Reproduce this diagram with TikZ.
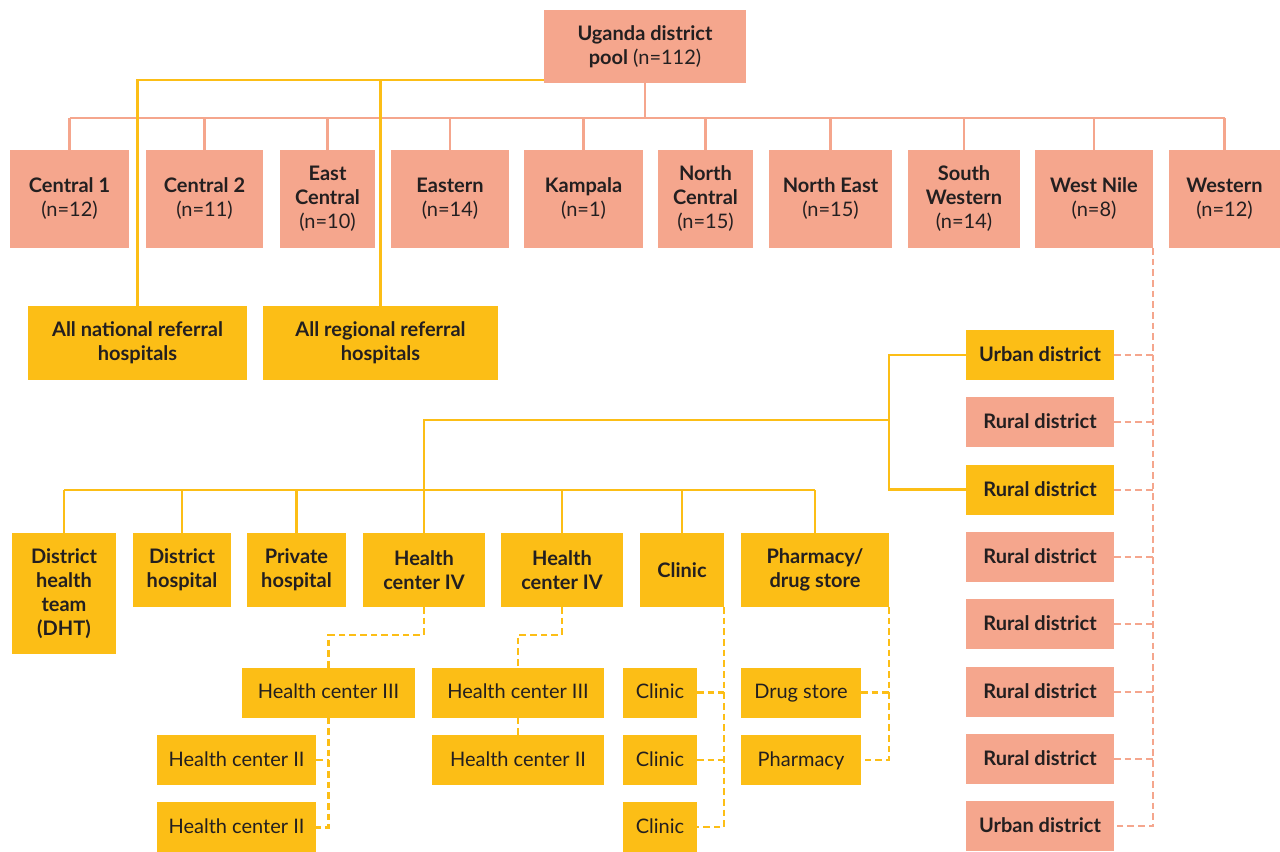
\documentclass[tikz,border=0pt]{standalone}
\usepackage{fontspec}
\setmainfont{Lato}
\usepackage{tikz}
\usetikzlibrary{positioning}
\definecolor{salmon}{RGB}{245,166,141}
\definecolor{gold}{RGB}{252,190,22}
\definecolor{ink}{RGB}{35,31,32}
\tikzset{%
salbox/.style={rectangle, fill=salmon, text=ink, align=center, inner sep=0pt, outer sep=0pt, font=\fontsize{15}{18}\selectfont},
goldbox/.style={rectangle, fill=gold, text=ink, align=center, inner sep=0pt, outer sep=0pt, font=\fontsize{15}{18}\selectfont},
region/.style={salbox, minimum height=73.5pt},
referral/.style={goldbox, font=\fontsize{15}{18}\selectfont\bfseries, minimum height=55.5pt},
distbox/.style={minimum width=111pt, minimum height=37.5pt, text height=12.5pt, text depth=3pt, font=\fontsize{15}{18}\selectfont\bfseries},
facility/.style={goldbox, font=\fontsize{15}{18}\selectfont\bfseries, minimum height=55.5pt},
outlet/.style={goldbox, minimum height=37.5pt, text height=12.5pt, text depth=3pt},
salline/.style={draw=salmon, line width=1.8pt},
goldline/.style={draw=gold, line width=2pt},
saldash/.style={draw=salmon, line width=1.6pt, dash pattern=on 5pt off 3pt},
golddash/.style={draw=gold, line width=1.8pt, dash pattern=on 5pt off 3pt}
}

\begin{document}
\begin{tikzpicture}[x=0.75pt, y=-0.75pt, node distance=13pt]
		\useasboundingbox (0,0) rectangle (1280,852);
		\node[salbox, minimum width=151.5pt, minimum height=55pt] (pool) at (645,46.5) {\textbf{Uganda district}\\\textbf{pool} (n=112)};
		
		\node[region, minimum width=89pt] (cen1) at (69.5,199) {\textbf{Central 1}\\(n=12)};
		\node[region, minimum width=88pt] (cen2) at (204.5,199) {\textbf{Central 2}\\(n=11)};
		\node[region, minimum width=71pt] (ecen) at (327.5,199) {\textbf{East}\\\textbf{Central}\\(n=10)};
		\node[region, minimum width=88.5pt] (east) at (450,199) {\textbf{Eastern}\\(n=14)};
		\node[region, minimum width=89pt] (kamp) at (583.5,199) {\textbf{Kampala}\\(n=1)};
		\node[region, minimum width=71pt] (ncen) at (705.5,199) {\textbf{North}\\\textbf{Central}\\(n=15)};
		\node[region, minimum width=92pt] (neast) at (830.5,199) {\textbf{North East}\\(n=15)};
		\node[region, minimum width=84pt] (swest) at (964,199) {\textbf{South}\\\textbf{Western}\\(n=14)};
		\node[region, minimum width=88.5pt] (wnile) at (1094,199) {\textbf{West Nile}\\(n=8)};
		\node[region, minimum width=83pt] (west) at (1224.5,199) {\textbf{Western}\\(n=12)};
		
		\node[referral, minimum width=164pt] (natl) at (137.5,343) {All national referral\\hospitals};
		\node[referral, minimum width=176pt] (regl) at (380.5,343) {All regional referral\\hospitals};
		
		\node[goldbox, distbox] (urb1) at (1040,355) {Urban district};
		\node[salbox, distbox] (rur1) [below=of urb1] {Rural district};
		\node[goldbox, distbox] (rur2) [below=of rur1] {Rural district};
		\node[salbox, distbox] (rur3) [below=of rur2] {Rural district};
		\node[salbox, distbox] (rur4) [below=of rur3] {Rural district};
		\node[salbox, distbox] (rur5) [below=of rur4] {Rural district};
		\node[salbox, distbox] (rur6) [below=of rur5] {Rural district};
		\node[salbox, distbox] (urb2) [below=of rur6] {Urban district};
		
		\node[facility, minimum width=78pt, minimum height=91pt] (dht) at (64,593.5) {District\\health\\team\\(DHT)};
		\node[facility, minimum width=73.5pt] (dhosp) at (182,570) {District\\hospital};
		\node[facility, minimum width=74pt] (phosp) at (296.5,570) {Private\\hospital};
		\node[facility, minimum width=91.5pt] (hc4a) at (424,570) {Health\\center IV};
		\node[facility, minimum width=91.5pt] (hc4b) at (562,570) {Health\\center IV};
		\node[facility, minimum width=63pt] (clinic) at (682,570) {Clinic};
		\node[facility, minimum width=111pt] (pharm) at (815,570) {Pharmacy/\\drug store};
		
		\node[outlet, minimum width=130pt] (hc3a) at (328.5,692.5) {Health center III};
		\node[outlet, minimum width=129pt] (hc3b) at (518,692.5) {Health center III};
		\node[outlet, minimum width=119pt] (hc2a) at (236.5,760) {Health center II};
		\node[outlet, minimum width=119pt] (hc2b) [below=of hc2a] {Health center II};
		\node[outlet, minimum width=129pt] (hc2c) [below=of hc3b] {Health center II};
		\node[outlet, minimum width=55.5pt] (cl1) at (660,692.5) {Clinic};
		\node[outlet, minimum width=55.5pt] (cl2) [below=of cl1] {Clinic};
		\node[outlet, minimum width=55.5pt] (cl3) [below=of cl2] {Clinic};
		\node[outlet, minimum width=90pt] (drug) at (801,692.5) {Drug store};
		\node[outlet, minimum width=90pt] (pharmacy) [below=of drug] {Pharmacy};
		
		\coordinate (sbus) at (0,118);
		\coordinate (hub) at (889,420);
		\coordinate (gbus) at (0,490);
		
		\draw[salline] (pool.south) -- (pool.south |- sbus);
		\draw[salline] (cen1.north |- sbus) -- (west.north |- sbus);
		\draw[salline] (cen1.north) -- (cen1.north |- sbus);
		\draw[salline] (cen2.north) -- (cen2.north |- sbus);
		\draw[salline] (ecen.north) -- (ecen.north |- sbus);
		\draw[salline] (east.north) -- (east.north |- sbus);
		\draw[salline] (kamp.north) -- (kamp.north |- sbus);
		\draw[salline] (ncen.north) -- (ncen.north |- sbus);
		\draw[salline] (neast.north) -- (neast.north |- sbus);
		\draw[salline] (swest.north) -- (swest.north |- sbus);
		\draw[salline] (wnile.north) -- (wnile.north |- sbus);
		\draw[salline] (west.north) -- (west.north |- sbus);
		
		\draw[goldline] ([yshift=2.25pt]pool.south west) -| (natl.north);
		\draw[goldline] ([yshift=2.25pt]pool.south west) -| (regl.north);
		
		\draw[saldash] (wnile.south east) |- (urb2.east);
		\draw[saldash] (urb1.east) -- (urb1.east -| wnile.south east);
		\draw[saldash] (rur1.east) -- (rur1.east -| wnile.south east);
		\draw[saldash] (rur2.east) -- (rur2.east -| wnile.south east);
		\draw[saldash] (rur3.east) -- (rur3.east -| wnile.south east);
		\draw[saldash] (rur4.east) -- (rur4.east -| wnile.south east);
		\draw[saldash] (rur5.east) -- (rur5.east -| wnile.south east);
		\draw[saldash] (rur6.east) -- (rur6.east -| wnile.south east);
		
		\draw[goldline] (urb1.west) -| (hub) |- (rur2.west);
		\draw[goldline] (hub) -| (hc4a.north);
		\draw[goldline] (dht.north |- gbus) -- (pharm.north |- gbus);
		\draw[goldline] (dht.north) -- (dht.north |- gbus);
		\draw[goldline] (dhosp.north) -- (dhosp.north |- gbus);
		\draw[goldline] (phosp.north) -- (phosp.north |- gbus);
		\draw[goldline] (hc4b.north) -- (hc4b.north |- gbus);
		\draw[goldline] (clinic.north) -- (clinic.north |- gbus);
		\draw[goldline] (pharm.north) -- (pharm.north |- gbus);
		
		\draw[golddash] (hc4a.south) -- ++(0,28) -| (hc3a.north);
		\draw[golddash] (hc3a.south) |- (hc2b.east);
		\draw[golddash] (hc2a.east) -- (hc2a.east -| hc3a.south);
		\draw[golddash] (hc4b.south) -- ++(0,28) -| (hc3b.north);
		\draw[golddash] (hc3b.south) -- (hc2c.north);
		\draw[golddash] (clinic.south east) |- (cl3.east);
		\draw[golddash] (cl1.east) -- (cl1.east -| clinic.south east);
		\draw[golddash] (cl2.east) -- (cl2.east -| clinic.south east);
		\draw[golddash] (pharm.south east) |- (pharmacy.east);
		\draw[golddash] (drug.east) -- (drug.east -| pharm.south east);
	\end{tikzpicture}
\end{document}
